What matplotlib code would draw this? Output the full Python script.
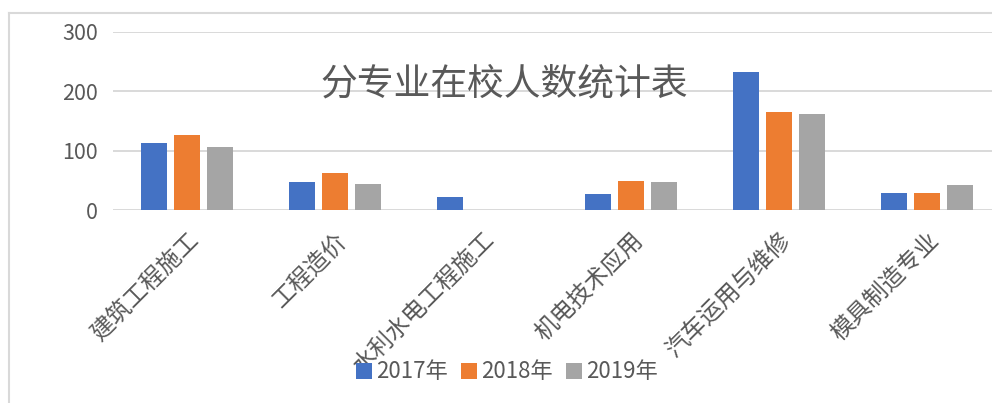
import numpy as np
from matplotlib import pyplot as plt
from matplotlib.patches import Patch
from matplotlib.lines import Line2D

plt.rcParams['font.family'] = ['Noto Sans CJK SC', 'DejaVu Sans']

majors = ["建筑工程施工", "工程造价", "水利水电工程施工", "机电技术应用", "汽车运用与维修", "模具制造专业"]
years = ["2017年", "2018年", "2019年"]
counts_2017 = [113, 47, 22, 28, 232, 30]
counts_2018 = [126, 63, 0, 50, 166, 29]
counts_2019 = [106, 45, 0, 47, 162, 42]
y_ticks = [0, 100, 200, 300]

COLORS = ("#4472C4", "#ED7D31", "#A5A5A5")
TEXT = "#595959"
GRID = "#D9D9D9"

figure = plt.figure(figsize=(9.92, 4.03), dpi=100)
axis = figure.add_axes([0.1139, 0.4777, 0.895, 0.4436])

x = np.arange(len(majors))
width = 0.175
offset = 0.223
for i, (vals, c) in enumerate(zip((counts_2017, counts_2018, counts_2019), COLORS)):
    axis.bar(x + (i - 1) * offset, vals, width=width, color=c, zorder=3)

axis.set_xlim(-0.5, len(majors) - 0.5)
axis.set_ylim(0, 300)
axis.set_yticks(y_ticks)
axis.set_yticklabels([str(v) for v in y_ticks])
axis.yaxis.grid(True, color=GRID, linewidth=1.4, zorder=0)
axis.set_axisbelow(True)
for s in axis.spines.values():
    s.set_visible(False)

axis.set_xticks(x)
axis.set_xticklabels(majors, rotation=45, ha="right", rotation_mode="anchor")
axis.tick_params(axis="x", length=0, pad=13, labelsize=17, labelcolor=TEXT)
axis.tick_params(axis="y", length=0, pad=11, labelsize=15.5, labelcolor=TEXT)

# chart border (partly cut off in the original)
figure.add_artist(Line2D([9 / 992, 9 / 992], [0, 1 - 13 / 403], color=GRID, lw=1.5,
                         transform=figure.transFigure))
figure.add_artist(Line2D([9 / 992, 1], [1 - 13 / 403, 1 - 13 / 403], color=GRID, lw=1.5,
                         transform=figure.transFigure))

figure.text(504 / 992, 1 - 84 / 403, "分专业在校人数统计表", ha="center", va="center",
            fontsize=26.5, color=TEXT)

handles = [Patch(facecolor=c, label=y) for c, y in zip(COLORS, years)]
leg = figure.legend(handles=handles, loc="center", bbox_to_anchor=(507 / 992, 1 - 372 / 403),
                    ncol=3, frameon=False, fontsize=16, handlelength=0.7, handleheight=0.7,
                    handletextpad=0.2, columnspacing=0.6, borderpad=0)
for t in leg.get_texts():
    t.set_color(TEXT)

figure.savefig("out.png", dpi=100)
